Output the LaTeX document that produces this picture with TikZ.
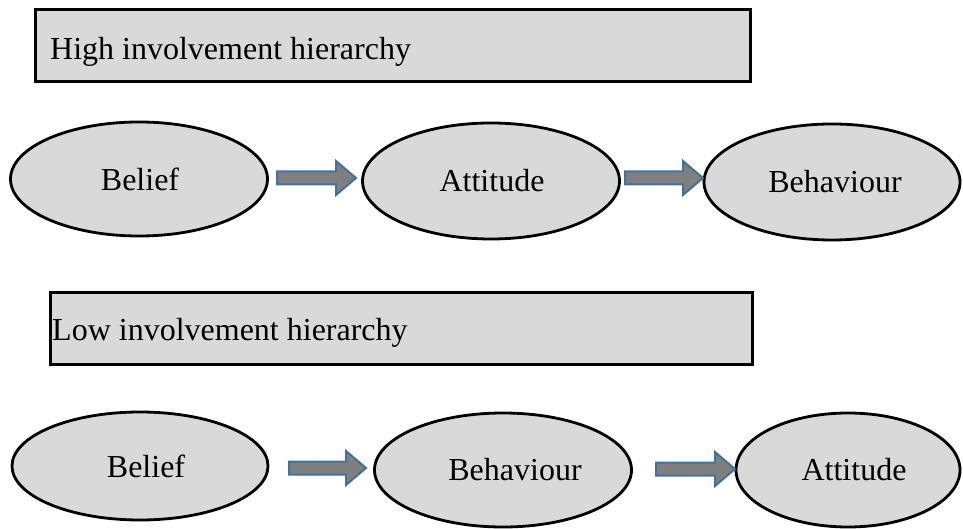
\documentclass[tikz,border=0pt]{standalone}
\usepackage{fontspec}
\setmainfont{Liberation Serif}
\usetikzlibrary{shapes.geometric}
\definecolor{boxfill}{HTML}{D9D9D9}
\definecolor{arrfill}{HTML}{7F7F7F}
\definecolor{arrline}{HTML}{41719C}
\tikzset{
  hbox/.style={draw=black,line width=3pt,fill=boxfill},
  oval/.style={ellipse,draw=black,line width=2.8pt,fill=boxfill,inner sep=0pt},
  lbl/.style={inner sep=0pt,font=\fontsize{32}{36}\selectfont},
  htext/.style={anchor=base west,inner sep=0pt,font=\fontsize{32}{36}\selectfont},
  barrow/.style={draw=arrline,line width=2pt,fill=arrfill,line join=miter}
}
\newcommand\barrow[3]{%
  \draw[barrow] (#1,#3+6.5) -- (#2-20,#3+6.5) -- (#2-20,#3+17) -- (#2,#3) -- (#2-20,#3-17) -- (#2-20,#3-6.5) -- (#1,#3-6.5) -- cycle;}
\begin{document}
\begin{tikzpicture}[x=1pt,y=-1pt]
\useasboundingbox (0,0) rectangle (963,529);
% top box
\draw[hbox] (35,10) rectangle (750,82);
\node[htext] (t1) at (50,60) {High involvement hierarchy};
% row 1
\node[oval,minimum width=257pt,minimum height=114pt] (b1) at (139,179) {};
\node[lbl] at ([xshift=1pt]b1.center) {Belief};
\node[oval,minimum width=257pt,minimum height=116pt] (a1) at (491,181) {};
\node[lbl] at ([xshift=1pt]a1.center) {Attitude};
\node[oval,minimum width=256pt,minimum height=116pt] (h1) at (832,182) {};
\node[lbl] at ([xshift=3pt]h1.center) {Behaviour};
\barrow{277}{356}{178}
\barrow{625}{703}{178}
% bottom box
\draw[hbox] (50,292) rectangle (752,364);
\node[htext] (t2) at (52,340) {Low involvement hierarchy};
% row 2
\node[oval,minimum width=256pt,minimum height=108pt] (b2) at (140,466) {};
\node[lbl] at ([xshift=6pt]b2.center) {Belief};
\node[oval,minimum width=257pt,minimum height=114pt] (h2) at (503,470) {};
\node[lbl] at ([xshift=12pt]h2.center) {Behaviour};
\node[oval,minimum width=224pt,minimum height=114pt] (a2) at (848,470) {};
\node[lbl] at ([xshift=6pt]a2.center) {Attitude};
\barrow{289}{366}{468}
\barrow{656}{735}{469}
\end{tikzpicture}
\end{document}
